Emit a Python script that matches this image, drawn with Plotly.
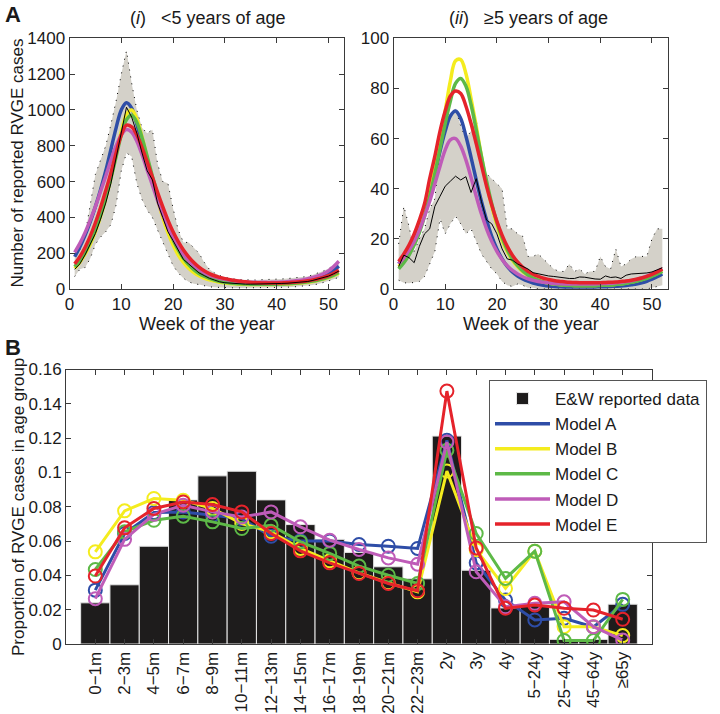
import plotly.graph_objects as go

# ---- panel A data (weekly, weeks 1..52) ----
weeks = list(range(1, 53))

# (i) <5 years of age
u5_model_a = [180, 235, 300, 375, 460, 555, 660, 780, 900, 1000, 1040, 1010, 920, 810, 700, 600, 505, 420, 345, 285,
              235, 192, 157, 128, 105, 87, 73, 62, 54, 47, 42, 38, 35, 33, 31, 30, 30, 30, 30, 31,
              32, 34, 36, 39, 43, 48, 55, 63, 74, 88, 105, 128]
u5_model_b = [115, 150, 195, 250, 320, 405, 505, 620, 750, 880, 975, 1000, 950, 850, 730, 610, 500, 400, 315, 245,
              190, 148, 116, 92, 74, 61, 51, 44, 38, 34, 31, 29, 27, 26, 25, 25, 25, 25, 25, 26,
              27, 28, 30, 32, 35, 38, 42, 48, 55, 64, 75, 88]
u5_model_c = [125, 160, 205, 262, 332, 415, 512, 620, 740, 860, 945, 970, 930, 845, 740, 630, 525, 430, 345, 275,
              218, 172, 136, 108, 87, 71, 59, 50, 43, 38, 34, 31, 29, 28, 27, 26, 26, 26, 26, 27,
              28, 29, 31, 33, 36, 40, 44, 50, 57, 66, 78, 92]
u5_model_d = [205, 255, 315, 385, 460, 545, 630, 720, 800, 860, 890, 875, 825, 750, 665, 580, 495, 415, 345, 285,
              235, 192, 158, 130, 108, 91, 78, 68, 60, 54, 49, 45, 42, 40, 38, 37, 37, 37, 37, 38,
              39, 41, 44, 47, 51, 57, 64, 73, 85, 101, 125, 155]
u5_model_e = [140, 180, 232, 295, 370, 455, 550, 650, 760, 860, 915, 905, 860, 790, 710, 625, 540, 460, 385, 320,
              265, 218, 180, 148, 122, 102, 86, 74, 65, 58, 52, 47, 43, 40, 37, 35, 34, 33, 33, 33,
              34, 35, 37, 39, 42, 46, 51, 57, 65, 75, 88, 105]
u5_data = [110, 140, 190, 250, 310, 390, 480, 590, 730, 880, 1015, 960, 870, 760, 660, 610, 480, 400, 320, 270,
           215, 165, 140, 115, 90, 75, 60, 50, 40, 35, 32, 30, 28, 27, 27, 27, 28, 28, 29, 30,
           31, 32, 34, 36, 38, 42, 48, 55, 62, 72, 85, 100]
u5_upper = [190, 220, 300, 480, 640, 720, 800, 920, 1050, 1200, 1330, 1150, 1000, 900, 870, 890, 700, 600, 590, 450,
            330, 260, 260, 230, 200, 150, 110, 90, 75, 65, 58, 55, 52, 50, 50, 50, 52, 52, 54, 55,
            56, 58, 60, 62, 65, 70, 80, 90, 100, 115, 130, 160]
u5_lower = [70, 110, 120, 170, 250, 290, 320, 360, 470, 660, 760, 740, 590, 500, 440, 400, 330, 260, 190, 130,
            90, 60, 40, 30, 25, 18, 12, 10, 8, 7, 6, 6, 6, 6, 6, 6, 6, 7, 7, 8,
            9, 10, 11, 13, 15, 18, 22, 28, 35, 45, 55, 65]

# (ii) >=5 years of age
o5_model_a = [10, 12.5, 15.5, 19.5, 24.5, 30.5, 38, 46, 55, 63, 69, 71, 68, 61, 52.5, 43.5, 35, 27.5, 21, 16,
              12, 9, 6.8, 5.2, 4, 3.1, 2.4, 1.9, 1.5, 1.2, 1, 0.9, 0.8, 0.8, 0.8, 0.8, 0.8, 0.8, 0.8, 0.9,
              0.9, 1, 1.1, 1.2, 1.4, 1.7, 2, 2.5, 3.1, 3.9, 4.9, 6]
o5_model_b = [9, 11.5, 14.5, 18.5, 23.5, 30, 38, 48, 59, 71, 83, 91, 91.5, 86, 76, 65, 53, 42, 33, 25.5,
              19.5, 15, 11.5, 8.9, 6.9, 5.4, 4.3, 3.5, 2.8, 2.4, 2, 1.8, 1.6, 1.5, 1.4, 1.4, 1.4, 1.4, 1.4, 1.5,
              1.6, 1.7, 1.9, 2.1, 2.4, 2.8, 3.2, 3.8, 4.5, 5.3, 6.2, 7.2]
o5_model_c = [8, 10.5, 13.5, 17.5, 22.5, 29, 37, 46, 56, 66, 75, 82, 84, 81, 73.5, 63.5, 53, 43, 34, 26.5,
              20.5, 15.7, 12, 9.3, 7.2, 5.6, 4.4, 3.5, 2.8, 2.3, 2, 1.7, 1.5, 1.4, 1.3, 1.3, 1.3, 1.3, 1.3, 1.4,
              1.5, 1.6, 1.8, 2, 2.3, 2.7, 3.1, 3.7, 4.3, 5.1, 6, 7]
o5_model_d = [10, 12.5, 15.5, 19, 23.5, 29, 35, 42, 49, 55.5, 59.5, 60, 57, 51.5, 44.5, 37, 30, 24, 19, 15,
              11.8, 9.3, 7.4, 6, 4.9, 4.1, 3.5, 3, 2.7, 2.4, 2.2, 2.1, 2, 2, 2, 2, 2, 2, 2, 2.1,
              2.2, 2.3, 2.5, 2.7, 3, 3.3, 3.8, 4.4, 5.1, 6, 7, 8]
o5_model_e = [11, 14, 17.5, 22, 27.5, 34, 44, 53, 63, 71, 77, 79, 78, 73, 66, 58, 49.5, 41, 33.5, 27,
              21.5, 17, 13.5, 10.8, 8.7, 7.1, 5.9, 5, 4.3, 3.8, 3.4, 3.1, 2.9, 2.7, 2.6, 2.5, 2.5, 2.5, 2.5, 2.5,
              2.6, 2.7, 2.8, 3, 3.2, 3.5, 3.9, 4.4, 5, 5.8, 6.8, 8]
o5_data = [9, 13.5, 12.5, 10.5, 17, 22, 24, 33, 37, 41, 43, 45, 43.5, 44.8, 38.5, 44, 35, 27.5, 26, 22,
           16, 12, 11.5, 10, 9, 8, 6.5, 6, 5.5, 5.2, 5, 4.8, 4.3, 4.2, 4.2, 4.8, 4.7, 4.3, 4, 3.9,
           5.2, 4.6, 4.8, 4.2, 5.5, 6, 6.1, 6.2, 6.4, 6.8, 7.5, 8.5]
o5_upper = [18, 33, 25, 15, 20, 24, 32, 36, 55, 64, 70, 72, 65, 60, 63, 68, 48, 46, 44, 42,
            40, 24, 24, 22, 21, 13, 13, 14, 12, 10, 8, 7, 7, 10, 7, 8, 6, 7, 7, 13,
            9, 8, 16, 9, 10, 12, 13, 13, 13, 20, 24, 24]
o5_lower = [3.5, 2.5, 2.3, 2.5, 3, 5, 10, 15, 28, 22, 26, 29, 26, 22, 24, 19, 14, 11, 8, 6,
            3, 1.5, 1, 2, 1.5, 0.5, 0.5, 0, 0, 0, 0, 0, 0, 0, 0, 0, 0, 0, 0, 0,
            0, 0, 0, 0, 0, 0, 0, 0, 0, 0.5, 1, 1.5]

# ---- panel B data ----
age_groups = ["0−1m", "2−3m", "4−5m", "6−7m", "8−9m", "10−11m", "12−13m", "14−15m", "16−17m",
              "18−19m", "20−21m", "22−23m", "2y", "3y", "4y", "5−24y", "25−44y", "45−64y", "≥65y"]
ew_reported = [0.024, 0.0345, 0.057, 0.084, 0.098, 0.1007, 0.084, 0.0696, 0.061,
               0.0534, 0.045, 0.038, 0.1212, 0.043, 0.021, 0.023, 0.0027, 0.0027, 0.0232]
prop_model_a = [0.0314, 0.0644, 0.0766, 0.077, 0.075, 0.0731, 0.0628, 0.0601, 0.0601,
                0.058, 0.057, 0.0557, 0.1187, 0.0473, 0.0256, 0.014, 0.015, 0.0099, 0.0231]
prop_model_b = [0.0537, 0.0776, 0.0848, 0.0838, 0.079, 0.0702, 0.0654, 0.0557, 0.0485,
                0.0415, 0.0357, 0.0304, 0.1008, 0.055, 0.0324, 0.0541, 0.0101, 0.0101, 0.0049]
prop_model_c = [0.0434, 0.0654, 0.0721, 0.0745, 0.0712, 0.0673, 0.0692, 0.0595, 0.0528,
                0.0454, 0.0401, 0.0353, 0.1129, 0.0644, 0.0382, 0.0541, 0.002, 0.002, 0.026]
prop_model_d = [0.0264, 0.061, 0.0756, 0.0809, 0.077, 0.074, 0.077, 0.0683, 0.0605,
                0.0551, 0.0502, 0.0465, 0.1177, 0.0421, 0.0217, 0.0237, 0.0246, 0.0101, 0.0023]
prop_model_e = [0.0396, 0.0677, 0.079, 0.0828, 0.0813, 0.077, 0.0644, 0.0543, 0.0473,
                0.0411, 0.0353, 0.031, 0.1474, 0.056, 0.0208, 0.0227, 0.0208, 0.0198, 0.0144]

model_names = ["Model A", "Model B", "Model C", "Model D", "Model E"]
model_colors = ["#2E4DA7", "#F4EC1E", "#5DB947", "#BF5CB8", "#E5232B"]

u5_models = [u5_model_a, u5_model_b, u5_model_c, u5_model_d, u5_model_e]
o5_models = [o5_model_a, o5_model_b, o5_model_c, o5_model_d, o5_model_e]
prop_models = [prop_model_a, prop_model_b, prop_model_c, prop_model_d, prop_model_e]

FONT = "Liberation Sans, Arial, Helvetica, sans-serif"
TICK_FS = 17
BAND = "rgb(212,209,201)"
AXC = "#3a3a3a"

W, H = 720, 714


def fx(px):
    return px / W


def fy(py):
    return 1 - py / H


fig = go.Figure()

# ---- panel A ----
panels = [("x", "y", u5_upper, u5_lower, u5_data, u5_models),
          ("x2", "y2", o5_upper, o5_lower, o5_data, o5_models)]
for k, (xa, ya, up, lo, dat, mods) in enumerate(panels):
    fig.add_trace(go.Scatter(x=weeks, y=lo, xaxis=xa, yaxis=ya, mode="lines",
                             line=dict(color="black", width=1, dash="1px,6px"),
                             showlegend=False, hoverinfo="skip"))
    fig.add_trace(go.Scatter(x=weeks, y=up, xaxis=xa, yaxis=ya, mode="lines",
                             line=dict(color="black", width=1, dash="1px,6px"),
                             fill="tonexty", fillcolor=BAND,
                             showlegend=False, hoverinfo="skip"))
    for i, m in enumerate(mods):
        fig.add_trace(go.Scatter(x=weeks, y=m, xaxis=xa, yaxis=ya, mode="lines",
                                 line=dict(color=model_colors[i], width=3.5, shape="spline"),
                                 name=model_names[i], legendrank=i + 2,
                                 showlegend=(k == 0)))
    fig.add_trace(go.Scatter(x=weeks, y=dat, xaxis=xa, yaxis=ya, mode="lines",
                             line=dict(color="black", width=1),
                             showlegend=False))

# ---- panel B ----
cat_pos = list(range(1, len(age_groups) + 1))
fig.add_trace(go.Bar(x=cat_pos, y=ew_reported, xaxis="x3", yaxis="y3", width=1,
                     marker=dict(color="#1e1c1c", line=dict(color="#e6e6e6", width=1)),
                     name="E&W reported data", legendrank=1))
for i, m in enumerate(prop_models):
    fig.add_trace(go.Scatter(x=cat_pos, y=m, xaxis="x3", yaxis="y3", mode="lines+markers",
                             line=dict(color=model_colors[i], width=3),
                             marker=dict(symbol="circle-open", size=13,
                                         line=dict(color=model_colors[i], width=2)),
                             name=model_names[i], showlegend=False))

axis_common = dict(showline=True, mirror="ticks", linecolor=AXC, linewidth=1,
                   ticks="inside", ticklen=5, tickcolor=AXC, showgrid=False, zeroline=False,
                   automargin=False, tickfont=dict(size=TICK_FS, color="#1a1a1a"))

fig.update_layout(
    template="none",
    width=W, height=H,
    margin=dict(l=0, r=0, t=0, b=0, pad=0),
    paper_bgcolor="white", plot_bgcolor="white",
    font=dict(family=FONT, size=17, color="#1a1a1a"),
    showlegend=True,
    legend=dict(x=fx(489), y=fy(380), xanchor="left", yanchor="top", traceorder="normal",
                bgcolor="white", bordercolor="#555", borderwidth=1,
                font=dict(size=17), itemwidth=55, tracegroupgap=0),
    xaxis=dict(domain=[fx(69.5), fx(344)], range=[0, 53], tickvals=[0, 10, 20, 30, 40, 50],
               anchor="y", **axis_common),
    yaxis=dict(domain=[fy(289), fy(38.3)], range=[0, 1400], dtick=200,
               anchor="x", **axis_common),
    xaxis2=dict(domain=[fx(393.5), fx(667.5)], range=[0, 53], tickvals=[0, 10, 20, 30, 40, 50],
                anchor="y2", **axis_common),
    yaxis2=dict(domain=[fy(289), fy(38.3)], range=[0, 100], dtick=20,
                anchor="x2", **axis_common),
    xaxis3=dict(domain=[fx(66), fx(652)], range=[0, 20], tickvals=cat_pos, ticktext=age_groups,
                tickangle=-90, anchor="y3", **axis_common),
    yaxis3=dict(domain=[fy(644), fy(369.5)], range=[0, 0.16],
                tickvals=[0, 0.02, 0.04, 0.06, 0.08, 0.1, 0.12, 0.14, 0.16],
                ticktext=["0", "0.02", "0.04", "0.06", "0.08", "0.1", "0.12", "0.14", "0.16"],
                anchor="x3", **axis_common),
)

annos = [
    dict(x=fx(3), y=fy(14), text="<b>A</b>", xanchor="left", font=dict(size=22)),
    dict(x=fx(3), y=fy(347), text="<b>B</b>", xanchor="left", font=dict(size=22)),
    dict(x=fx(208), y=fy(18), text="(<i>i</i>)   &lt;5 years of age", font=dict(size=18)),
    dict(x=fx(528), y=fy(18), text="(<i>ii</i>)   ≥5 years of age", font=dict(size=18)),
    dict(x=fx(206.7), y=fy(324), text="Week of the year", font=dict(size=18)),
    dict(x=fx(530.5), y=fy(324), text="Week of the year", font=dict(size=18)),
    dict(x=fx(18), y=fy(163.6), text="Number of reported RVGE cases", textangle=-90),
    dict(x=fx(18), y=fy(507), text="Proportion of RVGE cases in age group", textangle=-90),
]
for a in annos:
    a.setdefault("xanchor", "center")
    fig.add_annotation(xref="paper", yref="paper", yanchor="middle", showarrow=False,
                       font=a.pop("font", dict(size=17)), **a)

# the page body has a default 8px margin; remove it so the figure fills the window
fig.write_html("out.html", config={"displayModeBar": False},
               post_script="document.body.style.margin='0';document.body.style.overflow='hidden';")
